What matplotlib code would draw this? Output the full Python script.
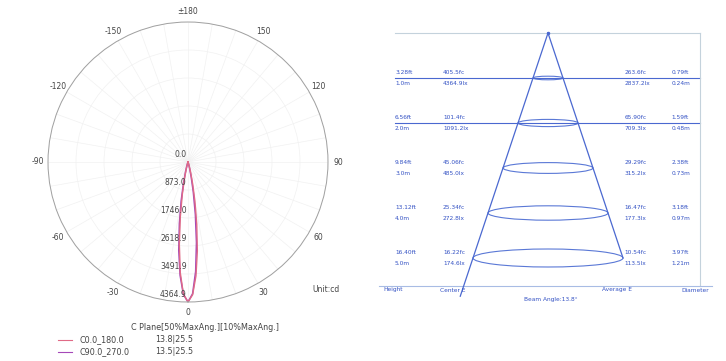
import numpy as np
import matplotlib
matplotlib.use("Agg")
import matplotlib.pyplot as plt
from matplotlib.patches import Ellipse
from matplotlib.lines import Line2D

# ---------------- data ----------------
angles_deg = [-30, -28, -26, -24, -22, -20, -18, -16, -14, -12, -10, -8, -6, -4, -2,
              0, 2, 4, 6, 8, 10, 12, 14, 16, 18, 20, 22, 24, 26, 28, 30]
c0_180 = [0, 0, 1, 2, 5, 13, 39, 105, 251, 538, 1018, 1720, 2583, 3457, 4117,
          4364.9, 4140, 3560, 2790, 1960, 1240, 700, 350, 160, 65, 22, 8, 3, 1, 0, 0]
c90_270 = [0, 0, 1, 3, 8, 22, 62, 150, 330, 680, 1220, 1930, 2760, 3540, 4130,
           4364.9, 4109, 3421, 2523, 1650, 952, 489, 221, 89, 32, 10, 3, 1, 0, 0, 0]
r_ticks = [0.0, 873.0, 1746.0, 2618.9, 3491.9, 4364.9]
r_tick_labels = ["0.0", "873.0", "1746.0", "2618.9", "3491.9", "4364.9"]
theta_label_map = {0: "0", 30: "30", 60: "60", 90: "90", 120: "120", 150: "150",
                   180: "±180", 210: "-150", 240: "-120", 270: "-90", 300: "-60", 330: "-30"}
legend_names = ["C0.0_180.0", "C90.0_270.0"]
legend_values = ["13.8|25.5", "13.5|25.5"]

heights = [1.0, 2.0, 3.0, 4.0, 5.0]
height_ft = ["3.28ft", "6.56ft", "9.84ft", "13.12ft", "16.40ft"]
height_m = ["1.0m", "2.0m", "3.0m", "4.0m", "5.0m"]
center_fc = ["405.5fc", "101.4fc", "45.06fc", "25.34fc", "16.22fc"]
center_lx = ["4364.9lx", "1091.2lx", "485.0lx", "272.8lx", "174.6lx"]
avg_fc = ["263.6fc", "65.90fc", "29.29fc", "16.47fc", "10.54fc"]
avg_lx = ["2837.2lx", "709.3lx", "315.2lx", "177.3lx", "113.5lx"]
diam_ft = ["0.79ft", "1.59ft", "2.38ft", "3.18ft", "3.97ft"]
diam_m = ["0.24m", "0.48m", "0.73m", "0.97m", "1.21m"]
beam_angle = 13.8

plt.rcParams['font.family'] = ['DejaVu Sans']

W, H = 726, 361
fig = plt.figure(figsize=(W / 100, H / 100), dpi=100)

# ---------------- polar chart ----------------
cx, cy, R = 188, 162, 140
ax = fig.add_axes([(cx - R) / W, (H - cy - R) / H, 2 * R / W, 2 * R / H], projection='polar')
ax.set_theta_zero_location('S')
ax.set_theta_direction(1)
ax.set_ylim(0, r_ticks[-1])
ax.set_yticks(r_ticks)
ax.set_yticklabels([])
tick_degs = list(range(0, 360, 10))
ax.set_xticks(np.deg2rad(tick_degs))
ax.set_xticklabels([theta_label_map.get(d, "") for d in tick_degs], fontsize=5.5, color='#444444')
ax.tick_params(axis='x', pad=-3)
ax.grid(True, color='#f1f1f1', linewidth=0.5)
ax.spines['polar'].set_color('#a0a0a0')
ax.spines['polar'].set_linewidth(0.7)

th = np.deg2rad(angles_deg)
ax.plot(th, c90_270, color='#a548b8', linewidth=1.1)
ax.plot(th, c0_180, color='#e06a86', linewidth=1.0)

for r, lab in zip(r_ticks, r_tick_labels):
    ax.annotate(lab, xy=(0, r), xytext=(-1, 2), textcoords='offset points',
                ha='right', va='bottom', fontsize=5.5, color='#444444')

fig.text(312 / W, 1 - 290 / H, "Unit:cd", fontsize=5.5, color='#444444', va='center')
fig.text(205 / W, 1 - 327 / H, "C Plane[50%MaxAng.][10%MaxAng.]", fontsize=5.8,
         color='#444444', ha='center', va='center')
for i, (nm, val, col) in enumerate(zip(legend_names, legend_values, ['#e06a86', '#a548b8'])):
    yy = 1 - (340 + 12 * i) / H
    fig.add_artist(Line2D([58 / W, 72 / W], [yy, yy], color=col, linewidth=0.8,
                          transform=fig.transFigure))
    fig.text(80 / W, yy, nm, fontsize=5.8, color='#444444', va='center')
    fig.text(155 / W, yy, val, fontsize=5.8, color='#444444', va='center')

# ---------------- cone diagram ----------------
ax2 = fig.add_axes([360 / W, 0, 366 / W, 1])
ax2.set_xlim((360 - 548) / 15, (726 - 548) / 15)
ax2.set_ylim((361 - 33) / 45, -33 / 45)
ax2.axis('off')

blue = '#4a68d0'
tblue = '#3452c4'
x_c1, x_c2, x_c3, x_c4 = -10.2, -7.0, 5.1, 8.25
x_right = 10.13
h_bottom = 5.62
fs = 4.2

# frame
ax2.plot([x_c1, x_right], [0, 0], color='#c4d2dc', linewidth=0.8)
ax2.plot([x_right, x_right], [0, h_bottom], color='#c4d2dc', linewidth=0.8)
ax2.plot([-11.3, 10.9], [h_bottom, h_bottom], color='#a8bce4', linewidth=0.8)

# cone
hmax = heights[-1]
ax2.plot([0, -5.85], [0, 5.85], color=blue, linewidth=0.9)
ax2.plot([0, hmax], [0, hmax], color=blue, linewidth=0.9)
ax2.plot([0], [0], marker='o', markersize=1.5, color=blue)

for i, h in enumerate(heights):
    ax2.add_patch(Ellipse((0, h), width=2 * h, height=0.08 * h, fill=False,
                          edgecolor='#5a78d6', linewidth=0.8))
    if i < 2:
        ax2.plot([x_c1, x_right], [h, h], color=blue, linewidth=0.8, zorder=1)
    bb = dict(facecolor='white', edgecolor='none', pad=0.3) if i < 2 else None
    for x, t1, t2 in [(x_c1, height_ft[i], height_m[i]), (x_c2, center_fc[i], center_lx[i]),
                      (x_c3, avg_fc[i], avg_lx[i]), (x_c4, diam_ft[i], diam_m[i])]:
        ax2.text(x, h - 0.06, t1, fontsize=fs, color=tblue, ha='left', va='bottom', bbox=bb, zorder=3)
        ax2.text(x, h + 0.06, t2, fontsize=fs, color=tblue, ha='left', va='top', bbox=bb, zorder=3)

hb = (290 - 33) / 45
ax2.text(-11.0, hb, "Height", fontsize=fs, color=tblue, ha='left', va='center')
ax2.text(-7.2, hb, "Center E", fontsize=fs, color=tblue, ha='left', va='center')
ax2.text(3.6, hb, "Average E", fontsize=fs, color=tblue, ha='left', va='center')
ax2.text(8.9, hb, "Diameter", fontsize=fs, color=tblue, ha='left', va='center')
ax2.text(0.2, (300 - 33) / 45, f"Beam Angle:{beam_angle}°", fontsize=fs, color=tblue,
         ha='center', va='center')

fig.savefig("out.png", dpi=100)
